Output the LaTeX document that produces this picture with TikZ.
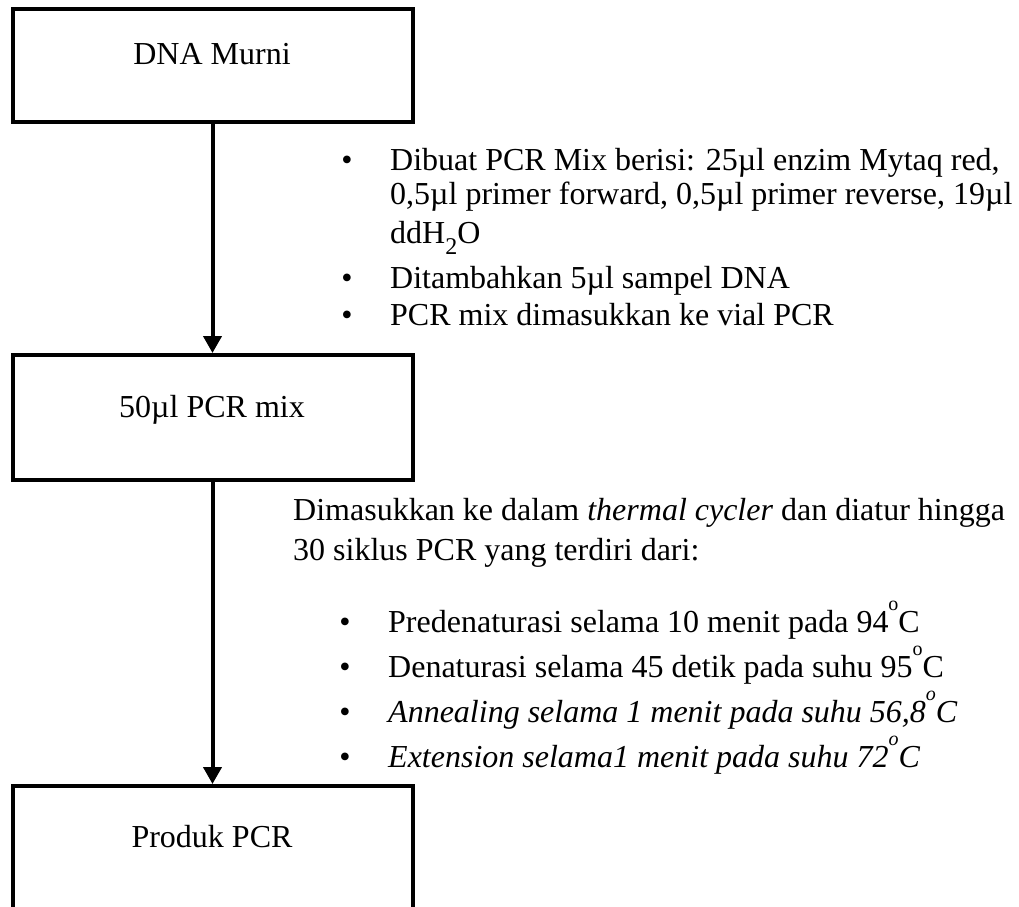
\documentclass[tikz,border=0pt]{standalone}
\usepackage{fontspec}
\setmainfont{Liberation Serif}
\usetikzlibrary{arrows.meta}

% raised small "o" used as degree mark, and a lowered subscript digit
\newcommand{\degmark}{\raisebox{22pt}{\fontsize{20}{20}\selectfont o}}
\newcommand{\lowtwo}{\raisebox{-11pt}{\fontsize{24}{24}\selectfont 2}}

\tikzset{
  box/.style={draw=black, line width=4pt, rectangle, minimum width=400pt, inner sep=0pt},
  flow/.style={line width=4pt, -{Triangle[width=18pt,length=17pt]}},
  txt/.style={inner sep=0pt, font={\fontsize{32}{38}\selectfont}},
  line/.style={txt, anchor=base west},
  bul/.style={txt, anchor=base},
}

\begin{document}
\begin{tikzpicture}[x=1pt, y=-1pt]
\useasboundingbox (0,0) rectangle (1019,906);
\fill[white] (0,0) rectangle (1019,906);

\begin{scope}
\clip (0,0) rectangle (1019,906);

% process boxes
\node[box, minimum height=112.5pt] (b1) at (212.5,65.25) {};
\node[box, minimum height=124.5pt] (b2) at (212.5,417.25) {};
\node[box, minimum height=144pt]   (b3) at (212.5,858) {};

\node[bul] (t1) at (212,64)  {DNA Murni};
\node[bul] (t2) at (212,417) {50µl PCR mix};
\node[bul] (t3) at (212,847) {Produk PCR};

% connectors
\draw[flow] (b1.south) -- (b2.north);
\draw[flow] (b2.south) -- (b3.north);
\end{scope}

% preparation of the PCR mix
\node[bul]  (p1) at (347,170) {•};
\node[line] (l1) at (390,170) {Dibuat PCR Mix berisi: 25µl enzim Mytaq red,};
\node[line] (l2) at (390,204) {0,5µl primer forward, 0,5µl primer reverse, 19µl};
\node[line] (l3) at (390,243) {ddH\lowtwo O};
\node[bul]  (p2) at (347,288) {•};
\node[line] (l4) at (390,288) {Ditambahkan 5µl sampel DNA};
\node[bul]  (p3) at (347,325) {•};
\node[line] (l5) at (390,325) {PCR mix dimasukkan ke vial PCR};

% thermal cycling
\node[line] (c1) at (293,520) {Dimasukkan ke dalam \textit{thermal cycler} dan diatur hingga};
\node[line] (c2) at (293,560) {30 siklus PCR yang terdiri dari:};

\node[bul]  (q1) at (345,632) {•};
\node[line] (s1) at (388,632) {Predenaturasi selama 10 menit pada 94\degmark C};
\node[bul]  (q2) at (345,677) {•};
\node[line] (s2) at (388,677) {Denaturasi selama 45 detik pada suhu 95\degmark C};
\node[bul]  (q3) at (345,722) {•};
\node[line] (s3) at (388,722) {\itshape Annealing selama 1 menit pada suhu 56,8\degmark C};
\node[bul]  (q4) at (345,767) {•};
\node[line] (s4) at (388,767) {\itshape Extension selama1 menit pada suhu 72\degmark C};
\end{tikzpicture}
\end{document}
